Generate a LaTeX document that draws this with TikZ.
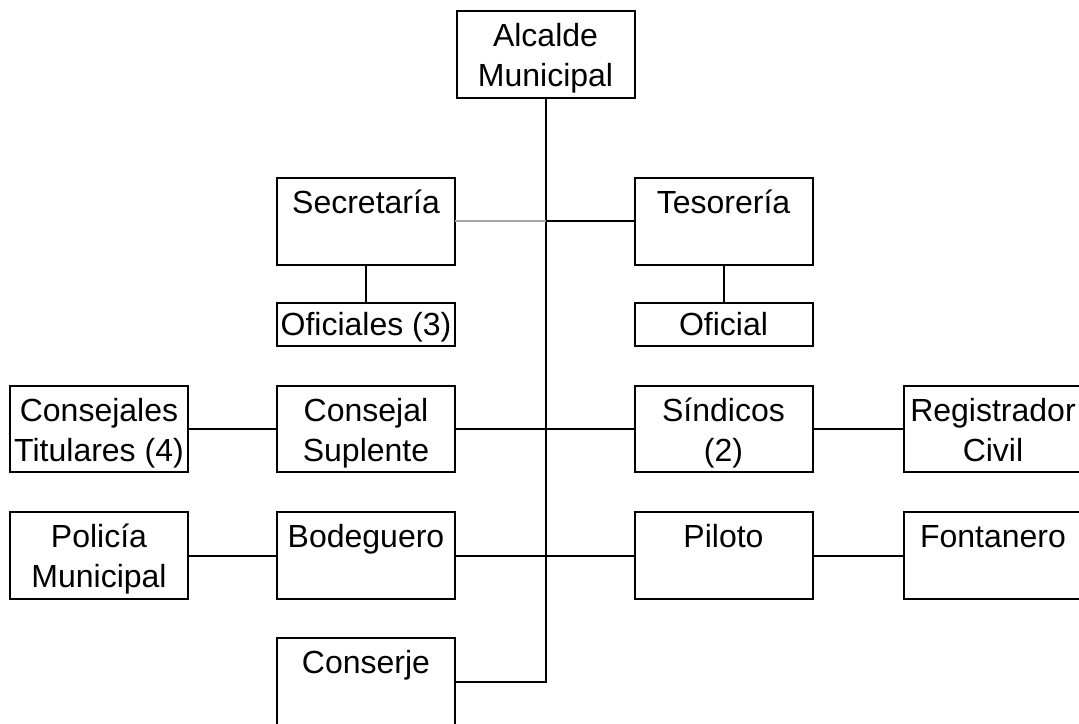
\documentclass[tikz,border=0pt]{standalone}
\usepackage{fontspec}
\setmainfont{Liberation Sans}
\begin{document}
\begin{tikzpicture}[x=1pt,y=-1pt,
  box/.style={draw, line width=2pt, minimum width=178pt, minimum height=87pt, inner sep=0pt, outer sep=0pt},
  smallbox/.style={box, minimum height=43pt},
  lbl/.style={align=center, font=\fontsize{32}{40}\selectfont, inner sep=0pt},
  conn/.style={line width=2pt},
  faint/.style={line width=2pt, draw={rgb,255:red,166;green,166;blue,166}}]
\clip (0,0) rectangle (1079,723);
% boxes
\node[box] (alc) at (545.5,54.5) {};
\node[box] (sec) at (366,221) {};
\node[box] (tes) at (723.5,221) {};
\node[smallbox] (ofs) at (366,324.5) {};
\node[smallbox] (ofi) at (723.5,324.5) {};
\node[box, minimum height=86pt] (ctit) at (99,429) {};
\node[box, minimum height=86pt] (csup) at (366,429) {};
\node[box, minimum height=86pt] (sind) at (723.5,429) {};
\node[box, minimum height=86pt] (reg) at (993,429) {};
\node[box] (pol) at (99,555.5) {};
\node[box] (bod) at (366,555.5) {};
\node[box] (pil) at (723.5,555.5) {};
\node[box] (fon) at (993,555.5) {};
\node[box] (cons) at (366,681.5) {};
% labels
\node[lbl] (alcT) at ([yshift=-4pt]alc.center) {\strut Alcalde\\\strut Municipal};
\node[lbl] (secT) at ([yshift=-4pt]sec.center) {\strut Secretaría\\\strut};
\node[lbl] (tesT) at ([yshift=-4pt]tes.center) {\strut Tesorería\\\strut};
\node[lbl] (ofsT) at ([yshift=-3pt]ofs.center) {\strut Oficiales (3)};
\node[lbl] (ofiT) at ([yshift=-3pt]ofi.center) {\strut Oficial};
\node[lbl] (ctitT) at ([yshift=-4pt]ctit.center) {\strut Consejales\\\strut Titulares (4)};
\node[lbl] (csupT) at ([yshift=-4pt]csup.center) {\strut Consejal\\\strut Suplente};
\node[lbl] (sindT) at ([yshift=-4pt]sind.center) {\strut Síndicos\\\strut (2)};
\node[lbl] (regT) at ([yshift=-4pt]reg.center) {\strut Registrador\\\strut Civil};
\node[lbl] (polT) at ([yshift=-4pt]pol.center) {\strut Policía\\\strut Municipal};
\node[lbl] (bodT) at ([yshift=-4pt]bod.center) {\strut Bodeguero\\\strut};
\node[lbl] (pilT) at ([yshift=-4pt]pil.center) {\strut Piloto\\\strut};
\node[lbl] (fonT) at ([yshift=-4pt]fon.center) {\strut Fontanero\\\strut};
\node[lbl] (consT) at ([yshift=-4pt]cons.center) {\strut Conserje\\\strut};
% connectors
\coordinate (j1) at (alc.south |- sec.east);
\draw[conn] (alc.south) |- (cons.east);
\draw[faint] (sec.east) -- (j1);
\draw[conn] (j1) -- (tes.west);
\draw[conn] (sec.south) -- (ofs.north);
\draw[conn] (tes.south) -- (ofi.north);
\draw[conn] (ctit.east) -- (csup.west);
\draw[conn] (csup.east) -- (sind.west);
\draw[conn] (sind.east) -- (reg.west);
\draw[conn] (pol.east) -- (bod.west);
\draw[conn] (bod.east) -- (pil.west);
\draw[conn] (pil.east) -- (fon.west);
\end{tikzpicture}
\end{document}
